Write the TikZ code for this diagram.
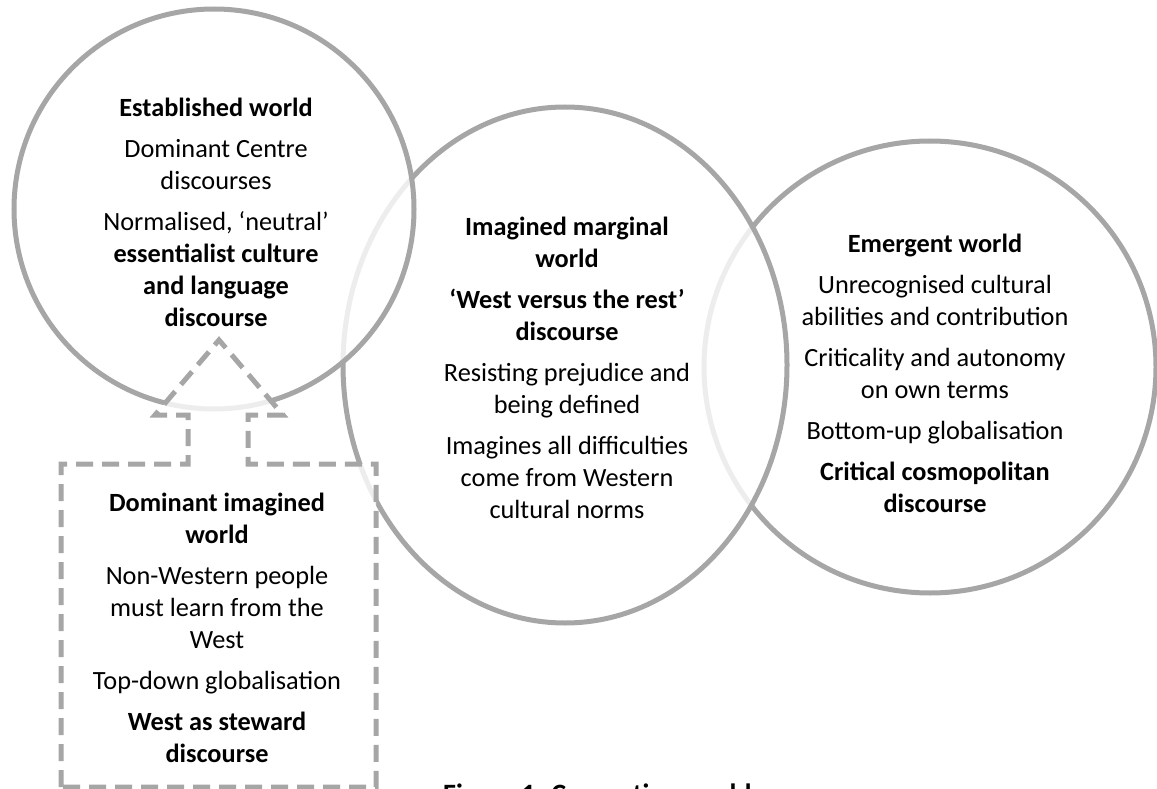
\documentclass[tikz,border=0pt]{standalone}
\usepackage{fontspec}
\setmainfont{Carlito}
\usepackage{tikz}
\usetikzlibrary{ calc, positioning, shapes.geometric }
\definecolor{ringgray}{HTML}{A6A6A6}
\tikzset{
world/.style={draw=ringgray, line width=5pt, fill=white, fill opacity=0.8, inner sep=0pt, outer sep=0pt}, % ring of one world
dashbox/.style={draw=ringgray, line width=5pt, fill=white, fill opacity=0.8, dash pattern=on 17pt off 9pt}, % dashed box with arrow
txt/.style={align=center, inner sep=0pt, anchor=north, text opacity=1, font=\fontsize{26.3}{32}\selectfont}, % text inside a world
}

\begin{document}
\begin{tikzpicture}[x=1pt, y=-1pt]
  \useasboundingbox (0,0) rectangle (1157,789);

  % Worlds, back to front ----------------------------
  \node[world, circle, minimum size=452pt] (emergent) at (930,367) {};
  \node[world, ellipse, minimum width=444pt, minimum height=516pt] (marginal) at (565,365) {};
  \node[world, circle, minimum size=400pt] (established) at (214,209) {};

  % Dominant imagined world: box with arrow up -------
  \coordinate (tip) at (219,340);
  \draw[dashbox] (61,787) -- (61,464) -- (188,464) -- (188,415) -- (155,415)
    -- (tip) -- (283,415) -- (248,415) -- (248,464) -- (376,464)
    -- (376,787) -- cycle;

  % Texts ---------------------------------------------
  \node[txt] (establishedtext) at (216,97.6) {\textbf{Established world}\\[9pt]
    Dominant Centre\\ discourses\\[9pt]
    Normalised, ‘neutral’\\ \textbf{essentialist culture}\\ \textbf{and language}\\ \textbf{discourse}};
  \node[txt] (marginaltext) at (567,216.6) {\textbf{Imagined marginal}\\ \textbf{world}\\[9pt]
    \textbf{‘West versus the rest’}\\ \textbf{discourse}\\[9pt]
    Resisting prejudice and\\ being defined\\[9pt]
    Imagines all difficulties\\ come from Western\\ cultural norms};
  \node[txt] (emergenttext) at (935,233.6) {\textbf{Emergent world}\\[9pt]
    Unrecognised cultural\\ abilities and contribution\\[9pt]
    Criticality and autonomy\\ on own terms\\[9pt]
    Bottom-up globalisation\\[9pt]
    \textbf{Critical cosmopolitan}\\ \textbf{discourse}};
  \node[txt] (dominanttext) at (217,492.6) {\textbf{Dominant imagined}\\ \textbf{world}\\[9pt]
    Non-Western people\\ must learn from the\\ West\\[9pt]
    Top-down globalisation\\[9pt]
    \textbf{West as steward}\\ \textbf{discourse}};

  % caption, cut by the page edge
  \node[anchor=base west, inner sep=0pt, font=\fontsize{28}{34}\selectfont\bfseries] (caption) at (443,803) {Figure 1. Competing worlds};
\end{tikzpicture}
\end{document}
